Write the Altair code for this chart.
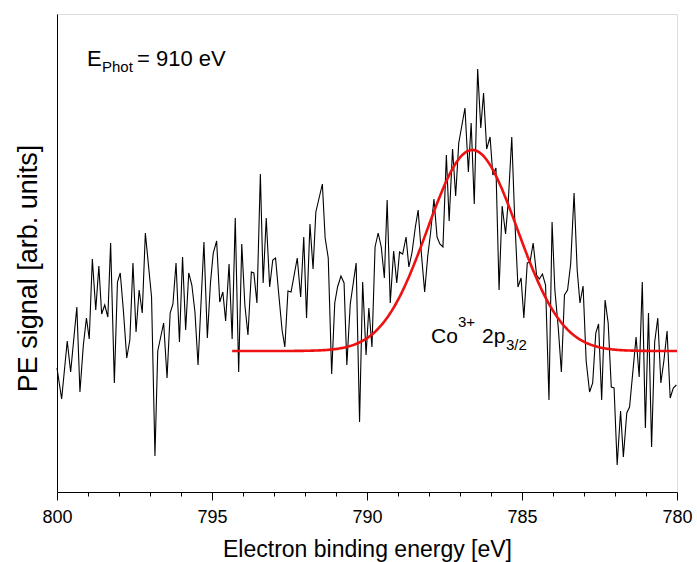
import altair as alt
import numpy as np
import pandas as pd

# Co 2p3/2 photoemission spectrum (binding energy in eV, signal in arb. units)
energy = [
    800.00, 799.85, 799.67, 799.56, 799.36, 799.26, 799.15, 799.05, 798.96, 798.86,
    798.75, 798.65, 798.56, 798.46, 798.36, 798.27, 798.15, 798.05, 797.96, 797.86,
    797.75, 797.65, 797.55, 797.45, 797.35, 797.25, 797.15, 796.95, 796.84, 796.75,
    796.56, 796.45, 796.35, 796.26, 796.16, 796.05, 795.95, 795.85, 795.75, 795.65,
    795.55, 795.45, 795.26, 795.15, 795.05, 794.96, 794.85, 794.75, 794.65, 794.56,
    794.45, 794.35, 794.25, 794.14, 794.04, 793.94, 793.84, 793.73, 793.65, 793.55,
    793.44, 793.35, 793.25, 793.14, 793.04, 792.95, 792.85, 792.74, 792.65, 792.55,
    792.45, 792.25, 792.14, 792.04, 791.95, 791.84, 791.74, 791.65, 791.44, 791.35,
    791.25, 791.14, 791.04, 790.95, 790.84, 790.74, 790.65, 790.54, 790.35, 790.24,
    790.14, 790.03, 789.94, 789.84, 789.74, 789.64, 789.54, 789.44, 789.35, 789.25,
    789.14, 789.04, 788.95, 788.85, 788.74, 788.65, 788.55, 788.44, 788.35, 788.25,
    788.14, 788.04, 787.95, 787.84, 787.74, 787.65, 787.55, 787.44, 787.35, 787.24,
    787.14, 787.04, 786.84, 786.73, 786.64, 786.54, 786.43, 786.33, 786.24, 786.14,
    786.03, 785.94, 785.84, 785.74, 785.64, 785.53, 785.44, 785.33, 785.24, 785.13,
    785.03, 784.94, 784.83, 784.74, 784.64, 784.53, 784.44, 784.34, 784.24, 784.13,
    784.03, 783.94, 783.83, 783.73, 783.63, 783.53, 783.43, 783.32, 783.22, 783.13,
    783.03, 782.93, 782.82, 782.72, 782.62, 782.53, 782.43, 782.32, 782.22, 782.12,
    782.03, 781.93, 781.82, 781.73, 781.62, 781.53, 781.44, 781.32, 781.22, 781.12,
    781.02, 780.92, 780.82, 780.72, 780.62, 780.52, 780.42, 780.32, 780.22, 780.12,
    780.02,
]
signal = [
    124, 93, 151, 120, 185, 100, 147, 174, 153, 233,
    182, 226, 178, 187, 175, 249, 109, 210, 219, 182,
    134, 152, 229, 160, 202, 179, 259, 195, 36, 141,
    169, 114, 179, 188, 229, 150, 235, 162, 219, 207,
    180, 127, 250, 154, 209, 239, 251, 190, 200, 171,
    228, 153, 274, 120, 248, 187, 157, 220, 219, 189,
    318, 209, 274, 205, 232, 234, 199, 162, 145, 201,
    200, 234, 195, 255, 174, 268, 223, 280, 308, 254,
    234, 118, 189, 205, 216, 209, 127, 188, 229, 70,
    210, 137, 184, 145, 245, 259, 245, 214, 292, 189,
    241, 209, 240, 238, 255, 225, 239, 265, 282, 240,
    200, 236, 259, 293, 255, 248, 245, 337, 271, 343,
    296, 349, 384, 320, 369, 288, 423, 364, 399, 343,
    355, 317, 324, 202, 286, 258, 292, 355, 277, 205,
    214, 174, 229, 230, 249, 217, 213, 218, 207, 92,
    270, 202, 164, 120, 197, 202, 228, 299, 222, 189,
    206, 131, 100, 109, 159, 168, 92, 192, 169, 105,
    104, 27, 81, 35, 79, 85, 115, 155, 115, 210,
    64, 179, 45, 150, 174, 109, 132, 161, 94, 104,
    107,
]

# Gaussian fit of the Co3+ 2p3/2 component
fit_center = 786.6
fit_sigma = 1.45
fit_height = 201
fit_baseline = 141
fit_range = [794.35, 780.0]

all_ticks = list(range(780, 801))

spectrum = pd.DataFrame({"energy": energy, "signal": signal})
fit_e = np.linspace(fit_range[1], fit_range[0], 400)
fit = pd.DataFrame({
    "energy": fit_e,
    "signal": fit_baseline + fit_height * np.exp(-((fit_e - fit_center) ** 2) / (2 * fit_sigma ** 2)),
})

FONT = "Liberation Sans"

x_enc = alt.X(
    "energy:Q",
    scale=alt.Scale(domain=[800, 780], nice=False, zero=False),
    axis=alt.Axis(
        values=all_ticks,
        labelExpr="datum.value % 5 === 0 ? datum.label : ''",
        labelOverlap=False,
        tickSize={"condition": {"test": "datum.value % 5 === 0", "value": 8}, "value": 4},
        tickColor="black",
        domainColor="black",
        grid=False,
        labelFont=FONT,
        labelFontSize=18,
        labelColor="black",
        labelPadding=8,
        labelFlush=False,
        title="Electron binding energy [eV]",
        titleFont=FONT,
        titleFontSize=23,
        titleFontWeight="normal",
        titleColor="black",
        titleBaseline="alphabetic",
        titleY=64,
    ),
)
y_enc = alt.Y(
    "signal:Q",
    scale=alt.Scale(domain=[0, 478], nice=False, zero=False),
    axis=alt.Axis(
        labels=False,
        ticks=False,
        grid=False,
        domainColor="black",
        title="PE signal [arb. units]",
        titleFont=FONT,
        titleFontSize=27,
        titleFontWeight="normal",
        titleColor="black",
        titleBaseline="alphabetic",
        titleAlign="center",
        titleX=-21,
        titleY=254,
    ),
)

data_line = alt.Chart(spectrum).mark_line(color="black", strokeWidth=1.1).encode(x=x_enc, y=y_enc)
fit_line = alt.Chart(fit).mark_line(color="#ee1111", strokeWidth=2.6).encode(x=x_enc, y=y_enc)

one = pd.DataFrame({"k": [0]})


def label(text, px, py, size, align="left"):
    return alt.Chart(one).mark_text(
        text=text, font=FONT, fontSize=size, color="black", align=align, baseline="alphabetic"
    ).encode(x=alt.value(px), y=alt.value(py))


photon_label = [("E", 30, 52, 22), ("Phot", 45, 58, 15), ("= 910 eV", 80, 52, 22)]
peak_label = [("Co", 374, 329, 21), ("3+", 401, 313, 15), ("2p", 425, 329, 21), ("3/2", 449, 336, 15)]

texts = [label(t, px, py, s) for t, px, py, s in photon_label + peak_label]

chart = alt.layer(data_line, fit_line, *texts).properties(
    width=620,
    height=478,
    padding={"left": 57, "top": 14, "right": 20, "bottom": 70},
    autosize=alt.AutoSizeParams(type="none"),
).configure_view(stroke="black", strokeWidth=1).configure(background="white")

chart.save("out.html", embed_options={"renderer": "svg", "actions": False})
